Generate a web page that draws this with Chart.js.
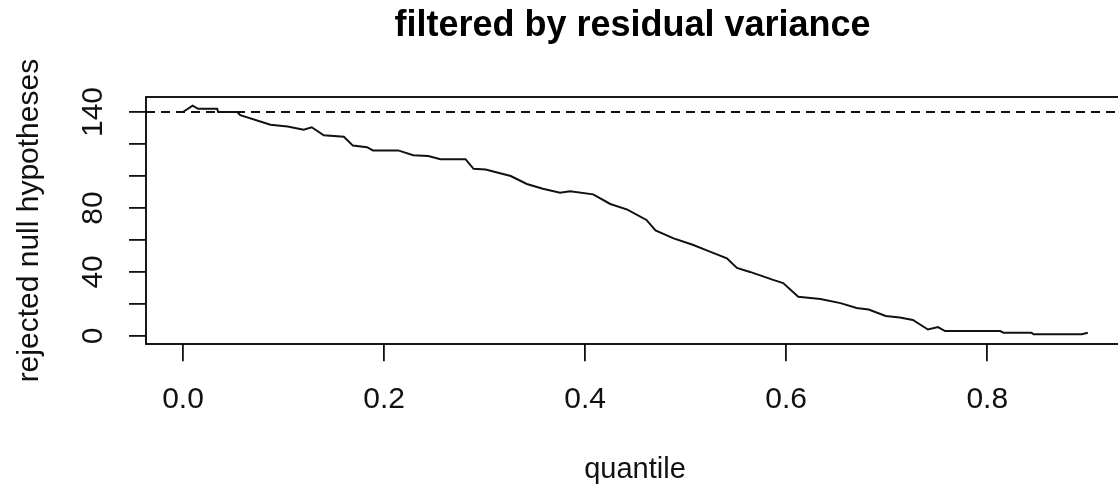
<!DOCTYPE html>
<html>
<head>
<meta charset="utf-8">
<script src="https://cdn.jsdelivr.net/npm/chart.js@4.4.1/dist/chart.umd.min.js"></script>
<style>
  html, body { margin: 0; padding: 0; background: #fff; overflow: hidden; }
  #wrap { position: relative; width: 1140px; height: 491px; }
</style>
</head>
<body>
<div id="wrap"><canvas id="c"></canvas></div>
<script>
// ---- data ----
const chartTitle = "filtered by residual variance";
const xAxisLabel = "quantile";
const yAxisLabel = "rejected null hypotheses";

const quantiles = [0, 0.0095, 0.015, 0.034, 0.035, 0.054, 0.057, 0.087, 0.104, 0.12, 0.128, 0.14, 0.16, 0.169, 0.183, 0.189,
  0.214, 0.229, 0.244, 0.256, 0.281, 0.289, 0.301, 0.326, 0.342, 0.358, 0.375, 0.385, 0.408, 0.425, 0.442, 0.461,
  0.47, 0.488, 0.507, 0.521, 0.541, 0.551, 0.564, 0.587, 0.597, 0.612, 0.634, 0.654, 0.67, 0.682, 0.699, 0.713,
  0.726, 0.741, 0.751, 0.758, 0.813, 0.816, 0.844, 0.846, 0.894, 0.9];
const rejected = [140, 144, 142, 142, 140, 140, 138, 132, 131, 129, 130.5, 125.5, 124.5, 119, 118, 116,
  116, 113, 112.5, 110.5, 110.5, 104.5, 104, 100, 95, 92, 89.5, 90.5, 88.5, 82.5, 79, 72.5,
  66, 61, 57, 53.5, 48.5, 42.5, 40, 35, 33, 24.5, 23, 20.5, 17.5, 16.5, 12.5, 11.5,
  10, 4, 5.5, 3, 3, 2, 2, 1, 1, 2];
const unfilteredCount = 140;

const xTicks = [0, 0.2, 0.4, 0.6, 0.8];
const xTickLabels = ["0.0", "0.2", "0.4", "0.6", "0.8"];
const yTicks = [0, 20, 40, 60, 80, 100, 120, 140];
const yTickLabels = ["0", "", "40", "", "80", "", "", "140"];

const xRange = [-0.0368, 0.936];
const yRange = [-5.2, 149.4];

// ---- chart ----
const FONT = "'Liberation Sans', Arial, sans-serif";

const boxPlugin = {
  id: 'rbox',
  afterDraw(chart) {
    const a = chart.chartArea, ctx = chart.ctx;
    ctx.save();
    ctx.strokeStyle = '#000';
    ctx.lineWidth = 1.8;
    ctx.strokeRect(Math.round(a.left), Math.round(a.top), Math.round(a.right - a.left), Math.round(a.bottom - a.top));
    ctx.restore();
  }
};

const titlePlugin = {
  id: 'rtitle',
  afterDraw(chart) {
    const ctx = chart.ctx;
    ctx.save();
    ctx.font = "bold 36px " + FONT;
    ctx.fillStyle = '#000';
    ctx.textBaseline = 'alphabetic';
    ctx.textAlign = 'center';
    ctx.fillText(chartTitle, 632.5, 36);
    ctx.restore();
  }
};

new Chart(document.getElementById('c'), {
  type: 'line',
  data: {
    datasets: [
      {
        data: quantiles.map((q, i) => ({ x: q, y: rejected[i] })),
        borderColor: '#111',
        borderWidth: 2,
        pointRadius: 0,
        tension: 0,
        fill: false
      },
      {
        data: [{ x: xRange[0], y: unfilteredCount }, { x: xRange[1], y: unfilteredCount }],
        borderColor: '#111',
        borderWidth: 2,
        borderDash: [9, 6],
        pointRadius: 0,
        fill: false
      }
    ]
  },
  options: {
    responsive: true,
    maintainAspectRatio: false,
    animation: false,
    layout: { padding: { left: 12, top: 97, right: 16, bottom: 4 } },
    plugins: { legend: { display: false }, tooltip: { enabled: false }, title: { display: false } },
    scales: {
      x: {
        type: 'linear',
        min: xRange[0],
        max: xRange[1],
        afterBuildTicks(scale) { scale.ticks = xTicks.map(v => ({ value: v })); },
        ticks: {
          autoSkip: false,
          includeBounds: false,
          maxRotation: 0,
          minRotation: 0,
          padding: 21,
          color: '#111',
          font: { family: FONT, size: 30 },
          callback(v) { const i = xTicks.indexOf(v); return i >= 0 ? xTickLabels[i] : ''; }
        },
        grid: { display: true, drawOnChartArea: false, drawTicks: true, tickLength: 17, color: '#111', lineWidth: 1.8 },
        border: { display: false },
        title: { display: true, text: xAxisLabel, color: '#111', font: { family: FONT, size: 29 }, padding: { top: 13, bottom: 0 } }
      },
      y: {
        type: 'linear',
        min: yRange[0],
        max: yRange[1],
        afterBuildTicks(scale) { scale.ticks = yTicks.map(v => ({ value: v })); },
        ticks: {
          autoSkip: false,
          includeBounds: false,
          minRotation: 90,
          maxRotation: 90,
          crossAlign: 'center',
          padding: 10,
          color: '#111',
          font: { family: FONT, size: 30 },
          callback(v) { const i = yTicks.indexOf(v); return i >= 0 ? yTickLabels[i] : ''; }
        },
        grid: { display: true, drawOnChartArea: false, drawTicks: true, tickLength: 17, color: '#111', lineWidth: 1.8 },
        border: { display: false },
        title: { display: true, text: yAxisLabel, color: '#111', font: { family: FONT, size: 30 }, padding: { top: 0, bottom: 25 } }
      }
    }
  },
  plugins: [boxPlugin, titlePlugin]
});
</script>
</body>
</html>
